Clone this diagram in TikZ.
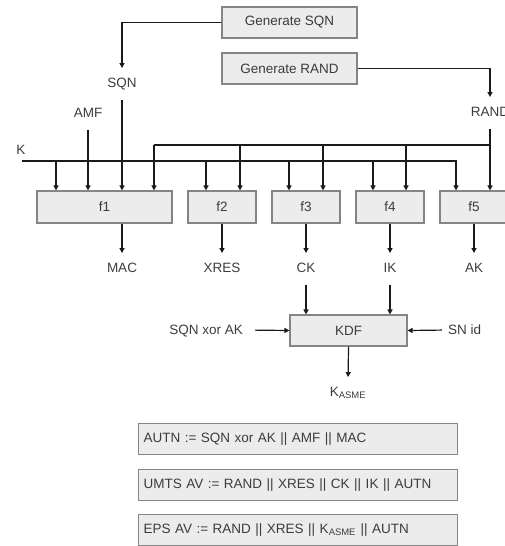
\documentclass[tikz,border=0pt]{standalone}
\usepackage{fontspec}
\setmainfont{Liberation Sans}
\usetikzlibrary{arrows.meta}
\definecolor{boxfill}{HTML}{ECECEC}
\definecolor{boxline}{HTML}{858585}
\definecolor{ink}{HTML}{1A1A1A}
\tikzset{
  fbox/.style={draw=boxline, fill=boxfill, line width=1.1pt, inner sep=0pt,
    font=\fontsize{13.5}{15}\selectfont, text=ink!85},
  lbl/.style={inner sep=0pt, text height=9.5pt, text depth=0pt,
    font=\fontsize{13.5}{15}\selectfont, text=ink!85},
  eqbox/.style={fbox, anchor=north west, minimum width=319pt, minimum height=31pt,
    text width=309pt, inner xsep=5pt, align=left},
  wire/.style={draw=ink, line width=1.2pt},
  arr/.style={wire, -{Triangle[length=5pt,width=5pt]}},
  tolbl/.style={shorten >=10pt},
  fromlbl/.style={shorten <=12pt}
}
\begin{document}
\begin{tikzpicture}[x=1pt,y=-1pt]
\useasboundingbox (0,0) rectangle (505,546);

% generators
\node[fbox, minimum width=135pt, minimum height=31pt] (gsqn)  at (289.5,22.5) {Generate SQN};
\node[fbox, minimum width=135pt, minimum height=31pt] (grand) at (289.5,68.5) {Generate RAND};

% input labels
\node[lbl] (sqn)  at (122,83)  {SQN};
\node[lbl] (amf)  at (88,113)  {AMF};
\node[lbl] (rand) at (490,112) {RAND};
\node[lbl] (k)    at (21,150)  {K};

% function blocks
\node[fbox, minimum width=135pt, minimum height=32pt] (f1) at (104.5,207) {f1};
\node[fbox, minimum width=68pt,  minimum height=32pt] (f2) at (222,207)   {f2};
\node[fbox, minimum width=68pt,  minimum height=32pt] (f3) at (306,207)   {f3};
\node[fbox, minimum width=68pt,  minimum height=32pt] (f4) at (390,207)   {f4};
\node[fbox, minimum width=68pt,  minimum height=32pt] (f5) at (474,207)   {f5};

% outputs
\node[lbl] (mac)  at (122,268) {MAC};
\node[lbl] (xres) at (222,268) {XRES};
\node[lbl] (ck)   at (306,268) {CK};
\node[lbl] (ik)   at (390,268) {IK};
\node[lbl] (ak)   at (474,268) {AK};

% key derivation
\node[fbox, minimum width=117pt, minimum height=31pt] (kdf) at (348.5,330.5) {KDF};
\node[lbl, anchor=east] (sqnxor) at (243,330) {SQN xor AK};
\node[lbl, anchor=west] (snid)   at (448,330) {SN id};
\node[lbl] (kasme) at (348,392) {K\textsubscript{ASME}};

% vector definitions
\node[eqbox] (autn) at (138,423) {AUTN := SQN xor AK || AMF || MAC};
\node[eqbox] (umts) at (138,469) {UMTS AV := RAND || XRES || CK || IK || AUTN};
\node[eqbox] (eps)  at (138,514) {EPS AV := RAND || XRES || K\textsubscript{ASME} || AUTN};

% bus taps
\coordinate (kbus)  at (22,161);
\coordinate (kend)  at (456,161);
\coordinate (rbus)  at (490,145);
\coordinate (r1) at (154,145);
\coordinate (r2) at (240,145);
\coordinate (r3) at (323,145);
\coordinate (r4) at (406,145);
\coordinate (k1) at (56,161);
\coordinate (k2) at (206,161);
\coordinate (k3) at (289,161);
\coordinate (k4) at (373,161);

% generator feeds
\draw[arr, tolbl] (gsqn.west) -| (sqn.north);
\draw[arr, tolbl] (grand.east) -| (rand.north);

% direct inputs of f1 and f5
\draw[arr, fromlbl] (amf.south) -- (amf.south |- f1.north);
\draw[arr, fromlbl] (sqn.south) -- (sqn.south |- f1.north);
\draw[arr, fromlbl] (rand.south) -- (rand.south |- f5.north);

% RAND bus
\draw[wire] (rbus) -- (r1);
\draw[arr] (r1) -- (r1 |- f1.north);
\draw[arr] (r2) -- (r2 |- f2.north);
\draw[arr] (r3) -- (r3 |- f3.north);
\draw[arr] (r4) -- (r4 |- f4.north);

% K bus
\draw[arr] (kbus) -- (kend) -- (kend |- f5.north);
\draw[arr] (k1) -- (k1 |- f1.north);
\draw[arr] (k2) -- (k2 |- f2.north);
\draw[arr] (k3) -- (k3 |- f3.north);
\draw[arr] (k4) -- (k4 |- f4.north);

% function outputs
\draw[arr, tolbl] (f1.south -| mac) -- (mac.north);
\draw[arr, tolbl] (f2.south) -- (xres.north);
\draw[arr, tolbl] (f3.south) -- (ck.north);
\draw[arr, tolbl] (f4.south) -- (ik.north);
\draw[arr, tolbl] (f5.south) -- (ak.north);

% KDF inputs and output
\draw[arr, fromlbl] (ck.south) -- (ck.south |- kdf.north);
\draw[arr, fromlbl] (ik.south) -- (ik.south |- kdf.north);
\draw[arr, fromlbl] (sqnxor.east) -- (kdf.west);
\draw[arr, shorten <=6pt] (snid.west) -- (kdf.east);
\draw[arr, tolbl] (kdf.south) -- (kasme.north);
\end{tikzpicture}
\end{document}
